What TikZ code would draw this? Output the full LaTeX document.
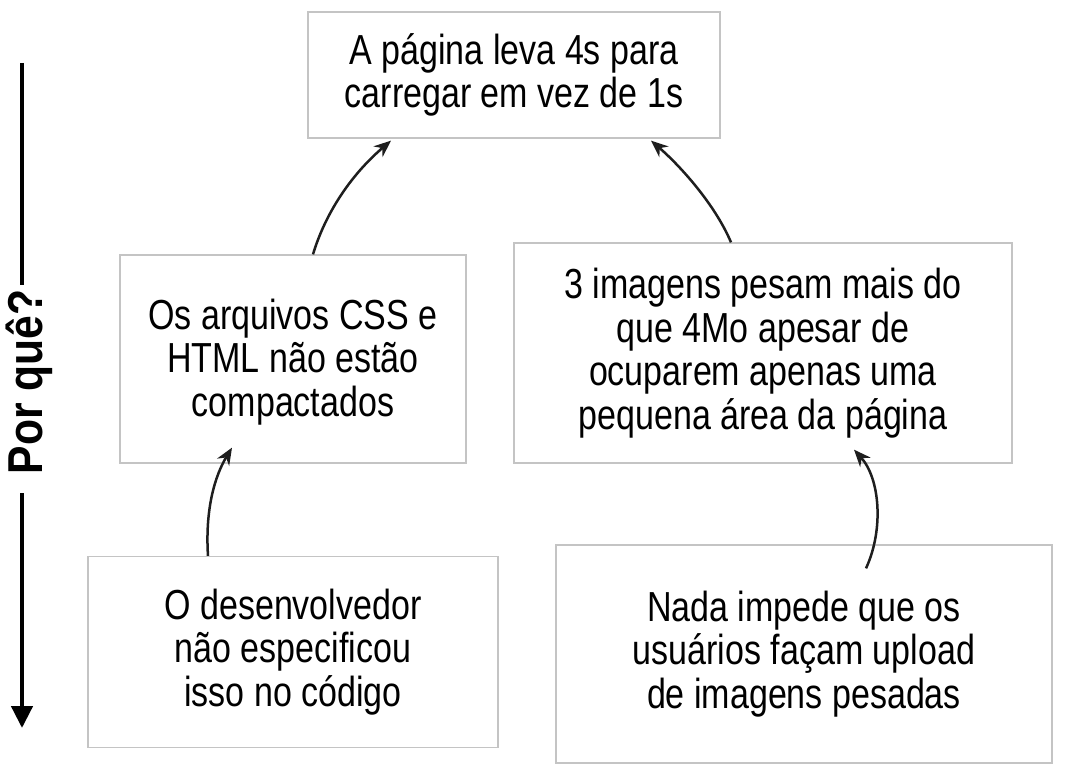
\documentclass[tikz,border=0pt]{standalone}
\usepackage{fontspec}
\setmainfont{Liberation Sans}[FakeStretch=0.81]
\newfontfamily\porfont{Liberation Sans Bold}[FakeStretch=0.87]
\usetikzlibrary{arrows.meta}
\definecolor{boxgray}{HTML}{C4C4C4}
\definecolor{arrowcol}{HTML}{1E1E1E}
\begin{document}
\begin{tikzpicture}[x=1pt,y=-1pt,
  card/.style={draw=boxgray, line width=1.3pt, fill=white, align=center,
    font=\fontsize{42}{43.5}\selectfont, inner sep=0pt},
  link/.style={draw=arrowcol, line width=2.5pt, -{Stealth[length=17pt,width=14pt]}},
  axis/.style={draw=black, line width=4.5pt}]
\useasboundingbox (0,0) rectangle (1068,778);

\node[card, minimum width=412pt, minimum height=126pt] (t) at (514,75)
  {A página leva 4s para\\carregar em vez de 1s};
\node[card, minimum width=346pt, minimum height=208pt] (c) at (293,359)
  {\vphantom{Á}Os arquivos CSS e\\HTML não estão\\compactados};
\node[card, minimum width=498pt, minimum height=220pt] (i) at (763,353)
  {3 imagens pesam mais do\\que 4Mo apesar de\\ocuparem apenas uma\\pequena área da página};
\node[card, minimum width=410pt, minimum height=191pt] (d) at (293,652)
  {O desenvolvedor\\não especificou\\isso no código};
\node[card, minimum width=496pt, minimum height=218pt] (n) at (804,654)
  {Nada impede que os\\usuários façam upload\\de imagens pesadas};

\draw[link] ([xshift=20pt]c.north) .. controls +(12,-40) and +(-41,35) .. ([xshift=-123pt,yshift=-2pt]t.south);
\draw[link] ([xshift=-32pt]i.north) .. controls +(-16,-38) and +(29,25) .. ([xshift=137pt,yshift=-2pt]t.south);
\draw[link] ([xshift=-85pt]d.north) .. controls +(-3,-47) and +(-17,28) .. ([xshift=-61pt,yshift=16pt]c.south);
\draw[link] ([xshift=62pt,yshift=-24pt]n.north) .. controls +(18,-39) and +(26,29) .. ([xshift=91pt,yshift=14pt]i.south);

\node[rotate=90, anchor=base, inner sep=0pt, font=\porfont\fontsize{49}{49}\selectfont] (por) at (42,382) {Por quê?};
\coordinate (l1) at (22,63);
\coordinate (l2) at (22,285);
\coordinate (l3) at (22,493);
\coordinate (l4) at (22,728);
\draw[axis] (l1) -- (l2);
\draw[axis, -{Triangle[length=22pt,width=21pt]}] (l3) -- (l4);
\end{tikzpicture}
\end{document}
